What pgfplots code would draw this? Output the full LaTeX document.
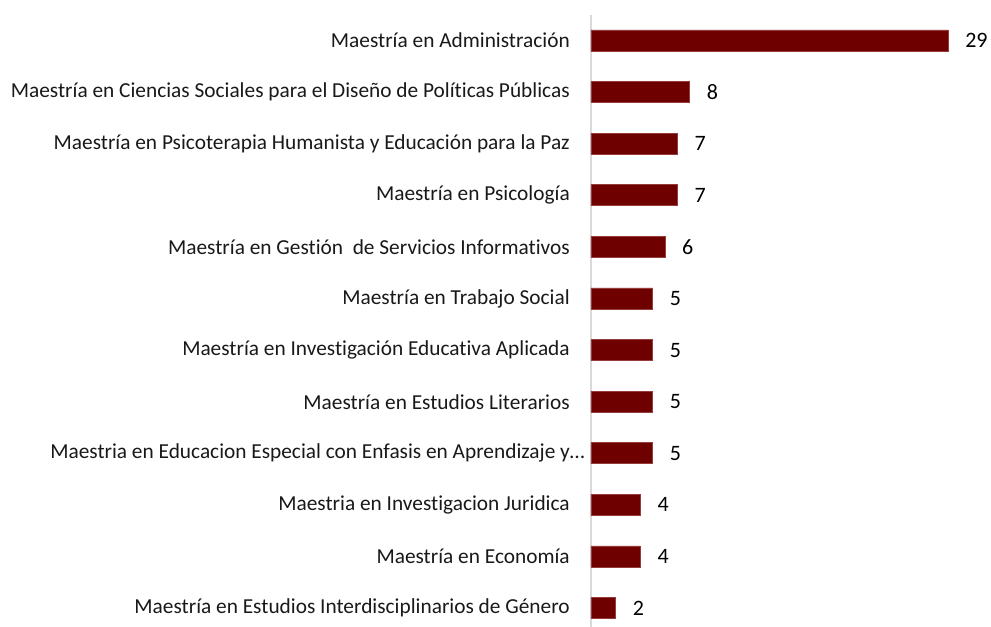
\documentclass[border=0pt]{standalone}
\usepackage{fontspec}
\setmainfont{Carlito}[Ligatures={NoCommon}]
\usepackage{pgfplots}
\pgfplotsset{compat=1.18}
\definecolor{barred}{RGB}{110,0,0}
\definecolor{baredge}{RGB}{150,60,60}
\definecolor{axgray}{RGB}{217,217,217}
\begin{document}
\begin{tikzpicture}
\begin{axis}[
  scale only axis,
  width=267.75pt, height=464.4pt,
  xmin=0, xmax=29,
  ymin=-0.5, ymax=11.5,
  y dir=reverse,
  xbar, bar width=15.75pt,
  axis x line=none,
  axis y line*=left,
  y axis line style={draw=axgray, line width=1pt, -},
  ytick={0,...,11},
  yticklabels={
    Maestría en Administración,
    Maestría en Ciencias Sociales para el Diseño de Políticas Públicas,
    Maestría en Psicoterapia Humanista y Educación para la Paz,
    Maestría en Psicología,
    Maestría en Gestión\ \ de Servicios Informativos,
    Maestría en Trabajo Social,
    Maestría en Investigación Educativa Aplicada,
    Maestría en Estudios Literarios,
    {Maestria en Educacion Especial con Enfasis en Aprendizaje y…\hspace*{-11.25pt}},
    Maestria en Investigacion Juridica,
    Maestría en Economía,
    Maestría en Estudios Interdisciplinarios de Género},
  major tick length=0pt,
  yticklabel style={font=\fontsize{16}{19}\selectfont, inner sep=0pt, xshift=-15.75pt, text=black!90},
  /pgf/number format/assume math mode=true,
  nodes near coords,
  every node near coord/.append style={font=\fontsize{16.5}{19}\selectfont, inner sep=0pt, xshift=12.75pt, anchor=west, text=black},
  clip=false,
]
\addplot[fill=barred, draw=baredge, line width=0.5pt] coordinates {
  (29,0) (8,1) (7,2) (7,3) (6,4) (5,5) (5,6) (5,7) (5,8) (4,9) (4,10) (2,11)
};
\end{axis}
\pgfresetboundingbox
\path[use as bounding box] ([xshift=-443.25pt, yshift=5.9pt]current axis.south west) rectangle ([xshift=300pt, yshift=11pt]current axis.north west);
\end{tikzpicture}
\end{document}
